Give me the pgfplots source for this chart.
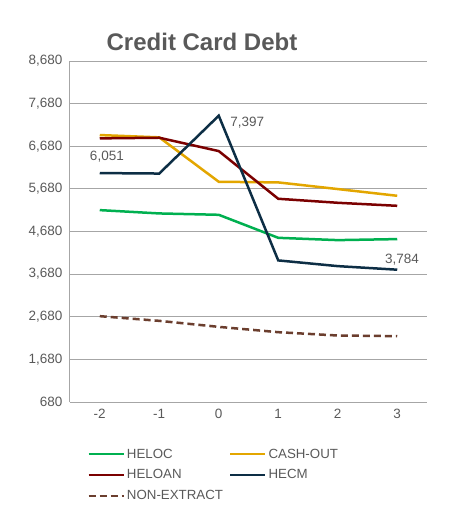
\documentclass[border=0pt]{standalone}
\usepackage{pgfplots}
\pgfplotsset{compat=1.18}
\usepackage{fontspec}
\setmainfont{Liberation Sans}
\definecolor{txt}{HTML}{595959}
\definecolor{grd}{HTML}{A6A6A6}
\definecolor{cheloc}{HTML}{00B050}
\definecolor{ccash}{HTML}{E3A600}
\definecolor{cheloan}{HTML}{7B0000}
\definecolor{checm}{HTML}{0D2E45}
\definecolor{cnon}{HTML}{6B3E2E}
\begin{document}
\begin{tikzpicture}
\path[use as bounding box] (0pt,0pt) rectangle (466pt,-523pt);
\node[font=\bfseries\fontsize{24}{27}\selectfont, text=txt] at (202pt,-42pt) {Credit Card Debt};
\begin{axis}[
  at={(70pt,-402pt)}, anchor=south west,
  scale only axis, width=357pt, height=341pt,
  xmin=-2.5, xmax=3.5, ymin=680, ymax=8680,
  xtick={-2,-1,0,1,2,3},
  ytick={680,1680,2680,3680,4680,5680,6680,7680,8680},
  /pgf/number format/1000 sep={,},
  /pgf/number format/assume math mode=true,
  ticklabel style={font=\fontsize{13.5}{15}\selectfont, text=txt},
  major tick length=0pt,
  axis x line*=bottom, axis y line*=left,
  axis line style={grd, line width=1pt, -},
  ymajorgrids, grid style={grd, line width=1pt},
  xticklabel style={yshift=-4pt},
  yticklabel style={xshift=-4pt},
  legend style={at={(0.04,-0.125)}, anchor=north west, draw=none, fill=none,
    font=\fontsize{13.3}{16}\selectfont, text=txt,
    legend columns=2, row sep=6pt,
    /tikz/every even column/.append style={column sep=4pt}},
  legend cell align=left,
  legend image code/.code={\draw[#1] (0pt,0pt) -- (35pt,0pt);},
  every axis plot/.append style={line width=2.5pt},
  clip=false,
]
\addplot[cheloc] coordinates {(-2,5182) (-1,5104) (0,5072) (1,4532) (2,4478) (3,4502)};
\addlegendentry{HELOC}
\addplot[ccash] coordinates {(-2,6943) (-1,6889) (0,5847) (1,5832) (2,5676) (3,5518)};
\addlegendentry{CASH-OUT}
\addplot[cheloan] coordinates {(-2,6865) (-1,6880) (0,6567) (1,5448) (2,5354) (3,5283)};
\addlegendentry{HELOAN}
\addplot[checm] coordinates {(-2,6051) (-1,6040) (0,7397) (1,4002) (2,3868) (3,3784)};
\addlegendentry{HECM}
\addplot[cnon, dashed, dash pattern=on 7pt off 4pt] coordinates {(-2,2694) (-1,2584) (0,2443) (1,2318) (2,2240) (3,2225)};
\addlegendentry{NON-EXTRACT}
\node[font=\fontsize{13.5}{15}\selectfont, text=txt] at (axis cs:-1.88,6440) {6,051};
\node[font=\fontsize{13.5}{15}\selectfont, text=txt] at (axis cs:0.48,7230) {7,397};
\node[font=\fontsize{13.5}{15}\selectfont, text=txt] at (axis cs:3.08,4020) {3,784};
\end{axis}
\end{tikzpicture}
\end{document}
